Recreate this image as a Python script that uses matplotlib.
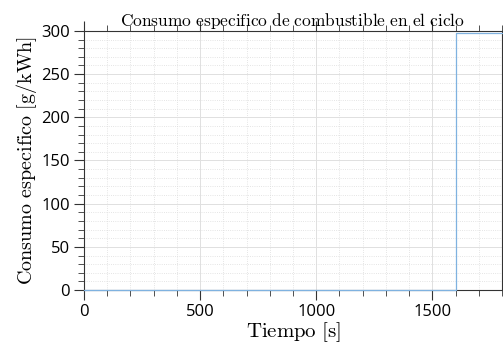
import matplotlib
matplotlib.use("Agg")
import matplotlib.pyplot as plt
from matplotlib.ticker import MultipleLocator

plt.rcParams['mathtext.fontset'] = 'cm'
plt.rcParams['font.family'] = ['Open Sans', 'DejaVu Sans']

tiempo = [0, 1600, 1600, 1800]
consumo = [0, 0, 297, 297]

fig = plt.figure(figsize=(5.03, 3.47), dpi=100)
ax = fig.add_axes([0.167, 0.164, 0.831, 0.747])
ax.plot(tiempo, consumo, color='#7fb2e0', lw=0.9, zorder=5, clip_on=False)
ax.set_xlim(0, 1800)
ax.set_ylim(0, 300)
ax.xaxis.set_major_locator(MultipleLocator(500))
ax.xaxis.set_minor_locator(MultipleLocator(100))
ax.yaxis.set_major_locator(MultipleLocator(50))
ax.yaxis.set_minor_locator(MultipleLocator(10))
ax.grid(which='major', color='#e0e0e0', lw=0.7, ls='-')
ax.grid(which='minor', color='#dcdcdc', lw=0.6, ls=':')
ax.set_axisbelow(True)
ax.tick_params(which='both', direction='out', top=True, right=True, color='#333333', labelsize=12, pad=3, labelcolor='black')
ax.tick_params(which='major', length=7, width=0.8)
ax.tick_params(which='minor', length=4, width=0.6)
for s in ax.spines.values():
    s.set_color('#333333')
    s.set_linewidth(0.8)
ax.set_title(r'$\mathrm{Consumo\ especifico\ de\ combustible\ en\ el\ ciclo}$', fontsize=12.5, pad=1)
ax.set_xlabel(r'$\mathrm{Tiempo\ [s]}$', fontsize=15, labelpad=0)
ax.set_ylabel(r'$\mathrm{Consumo\ especifico\ [g/kWh]}$', fontsize=14.5, labelpad=2)
fig.savefig('out.png', dpi=100)
